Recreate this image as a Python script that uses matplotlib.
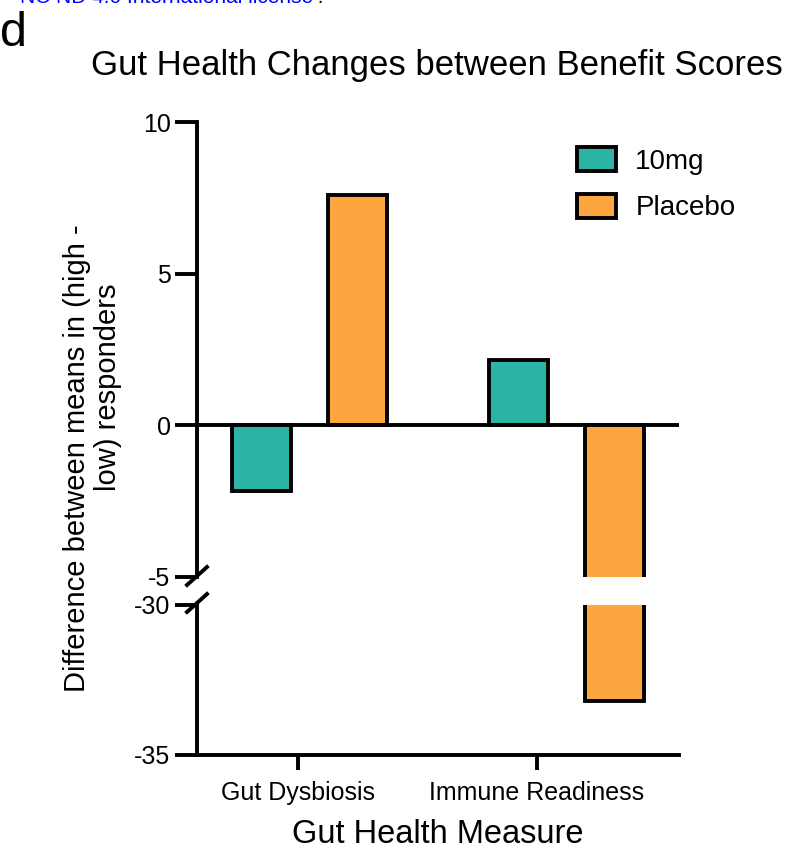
import matplotlib
matplotlib.use("Agg")
import matplotlib.pyplot as plt
from matplotlib.patches import Patch
import numpy as np

plt.rcParams['font.family'] = ['Liberation Sans', 'DejaVu Sans']
plt.rcParams['axes.unicode_minus'] = False

# data
measures = ["Gut Dysbiosis", "Immune Readiness"]
groups = ["10mg", "Placebo"]
vals_10mg = [-2.15, 2.15]
vals_placebo = [7.6, -33.2]
colors = {"10mg": "#2BB3A3", "Placebo": "#FDA53F"}

# layout (data units, group centres at 0 and 1)
offset = 0.187
width = 0.23
tick_pos = [-0.045, 0.885]
xlim = (-0.438, 1.438)
lw = 2.8

fig = plt.figure(figsize=(7.99, 8.67), dpi=100)
L, R = 197 / 799, 679 / 799
ax_top = fig.add_axes([L, 1 - 577 / 867, R - L, (577 - 122) / 867])
ax_bot = fig.add_axes([L, 1 - 755 / 867, R - L, (755 - 605) / 867])

x = np.arange(len(measures))
for ax in (ax_top, ax_bot):
    ax.bar(x - offset, vals_10mg, width, color=colors["10mg"], edgecolor="black", linewidth=lw, zorder=2)
    ax.bar(x + offset, vals_placebo, width, color=colors["Placebo"], edgecolor="black", linewidth=lw, zorder=2)
    ax.set_xlim(*xlim)
    for s in ("top", "right"):
        ax.spines[s].set_visible(False)
    ax.spines["left"].set_linewidth(lw)
    ax.spines["bottom"].set_linewidth(lw)
    ax.tick_params(axis="y", length=16, width=lw, labelsize=18, pad=3)

ax_top.set_ylim(-5, 10)
ax_top.set_yticks([-5, 0, 5, 10])
ax_top.spines["bottom"].set_visible(False)
ax_top.set_xticks([])
ax_top.axhline(0, color="black", linewidth=lw, zorder=3)

ax_bot.set_ylim(-35, -30)
ax_bot.set_yticks([-35, -30])
ax_bot.set_xticks(tick_pos)
ax_bot.set_xticklabels(measures)
ax_bot.tick_params(axis="x", length=11, width=lw, labelsize=18, pad=8)
ax_bot.set_xlabel("Gut Health Measure", fontsize=23.5, labelpad=10)

# break marks
for yb in (576, 603):
    fig.add_artist(plt.Line2D([187 / 799, 207 / 799], [1 - (yb + 9) / 867, 1 - (yb - 9) / 867],
                              color="black", linewidth=lw, transform=fig.transFigure))

# y label, two lines placed as in the reference
fig.text(77 / 799, 1 - 458 / 867, "Difference between means in (high -",
         rotation=90, ha="center", va="center", fontsize=21)
fig.text(108 / 799, 1 - 387 / 867, "low) responders",
         rotation=90, ha="center", va="center", fontsize=21)

fig.text(437 / 799, 1 - 66 / 867, "Gut Health Changes between Benefit Scores",
         ha="center", va="center", fontsize=25)
fig.text(0, 1 - 33 / 867, "d", ha="left", va="center", fontsize=35)
fig.text(20 / 799, 1 + 2 / 867, "NC ND 4.0 International license", color="blue",
         ha="left", va="center", fontsize=15)
fig.text(312 / 799, 1 + 2 / 867, " .", color="black", ha="left", va="center", fontsize=15)

handles = [Patch(facecolor=colors[g], edgecolor="black", linewidth=lw, label=g) for g in groups]
fig.legend(handles=handles, loc="upper left", bbox_to_anchor=(577 / 799, 1 - 147 / 867),
           frameon=False, fontsize=20, handlelength=1.4, handleheight=0.95,
           labelspacing=0.7, handletextpad=0.7, borderpad=0, borderaxespad=0)

fig.savefig("out.png", dpi=100)
